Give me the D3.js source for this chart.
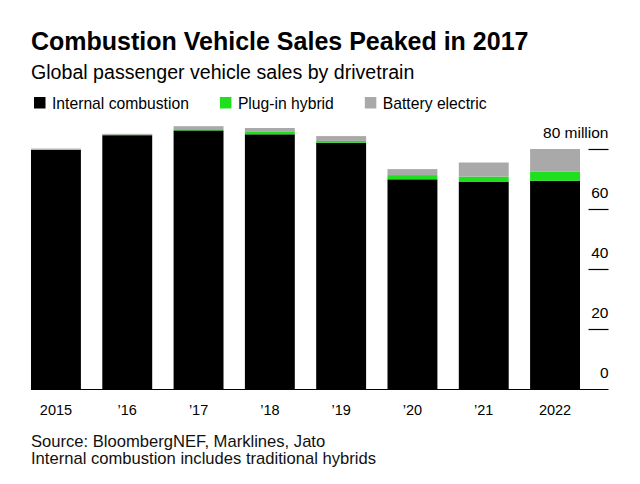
<!DOCTYPE html>
<html>
<head>
<meta charset="utf-8">
<script src="https://cdn.jsdelivr.net/npm/d3@7"></script>
<style>
  html, body { margin: 0; padding: 0; background: #fff; }
  svg { display: block; font-family: "Liberation Sans", Arial, Helvetica, sans-serif; }
</style>
</head>
<body>
<svg id="chart" width="640" height="484"></svg>
<script>
// ---- data ----
const years = ["2015", "\u201916", "\u201917", "\u201918", "\u201919", "\u201920", "\u201921", "2022"];
const internalCombustion = [79.7, 84.6, 86.2, 84.9, 82.1, 69.9, 69.0, 69.4];
const plugInHybrid       = [0.15, 0.15, 0.4, 0.8, 0.6, 1.4, 1.8, 3.0];
const batteryElectric    = [0.3, 0.3, 1.0, 1.3, 1.6, 2.0, 4.7, 7.6];
const seriesNames = ["Internal combustion", "Plug-in hybrid", "Battery electric"];
const seriesColors = ["#000000", "#1fe01f", "#a9a9a9"];
const yTicks = [0, 20, 40, 60, 80];
const yTickLabels = ["0", "20", "40", "60", "80 million"];
const titleText = "Combustion Vehicle Sales Peaked in 2017";
const subtitleText = "Global passenger vehicle sales by drivetrain";
const sourceLines = ["Source: BloombergNEF, Marklines, Jato", "Internal combustion includes traditional hybrids"];

// ---- build table ----
const keys = ["ice", "phev", "bev"];
const table = years.map((y, i) => ({ year: y, ice: internalCombustion[i], phev: plugInHybrid[i], bev: batteryElectric[i] }));
const stacked = d3.stack().keys(keys)(table);

const svg = d3.select("#chart");

// ---- scales ----
const x = d3.scaleBand().domain(years).range([20.3, 590.7]).paddingInner(0.3).paddingOuter(0.15);
const y = d3.scaleLinear().domain([0, 80]).range([389, 149]);
const color = d3.scaleOrdinal().domain(keys).range(seriesColors);

// ---- titles ----
svg.append("text").attr("x", 31).attr("y", 49.5)
  .attr("font-size", 25).attr("font-weight", "bold").attr("fill", "#000")
  .text(titleText);
svg.append("text").attr("x", 31).attr("y", 79)
  .attr("font-size", 19.6).attr("fill", "#000")
  .text(subtitleText);

// ---- legend ----
const legend = svg.append("g");
let lx = 34;
seriesNames.forEach((name, i) => {
  const g = legend.append("g");
  g.append("rect").attr("x", lx).attr("y", 97).attr("width", 11.5).attr("height", 11.5).attr("fill", seriesColors[i]);
  const t = g.append("text").attr("x", lx + 18).attr("y", 109).attr("font-size", 15.7).attr("fill", "#000").text(name);
  const w = t.node().getComputedTextLength();
  lx = lx + 18 + w + 31;
});

// ---- bars ----
svg.append("g").selectAll("g").data(stacked).join("g")
  .attr("fill", d => color(d.key))
  .selectAll("rect").data(d => d).join("rect")
  .attr("x", d => x(d.data.year))
  .attr("width", x.bandwidth())
  .attr("y", d => y(d[1]))
  .attr("height", d => y(d[0]) - y(d[1]));

// ---- x axis ----
const xAxis = svg.append("g").attr("transform", "translate(0,389)")
  .call(d3.axisBottom(x).tickSize(0).tickPadding(16));
xAxis.select(".domain").attr("d", "M31,0.5H608.5").attr("stroke", "#000").attr("stroke-width", 1.2);
xAxis.selectAll("text").attr("font-size", 14.5).attr("fill", "#000")
  .attr("font-family", "Liberation Sans, Arial, sans-serif");

// ---- y axis (right, labels above tick lines) ----
const yAxis = svg.append("g").attr("transform", "translate(608.5,0)")
  .call(d3.axisLeft(y).tickValues(yTicks).tickSize(20).tickFormat((d, i) => yTickLabels[i]));
yAxis.select(".domain").remove();
yAxis.selectAll(".tick line").attr("stroke", "#000").attr("stroke-width", 1.2)
  .filter(d => d === 0).remove();
yAxis.selectAll(".tick text")
  .attr("x", 0).attr("dy", null).attr("y", -11.5)
  .attr("text-anchor", "end")
  .attr("font-size", 15.5).attr("fill", "#000")
  .attr("font-family", "Liberation Sans, Arial, sans-serif");

// ---- source ----
sourceLines.forEach((s, i) => {
  svg.append("text").attr("x", 31).attr("y", 446.5 + i * 17.5)
    .attr("font-size", 16.6).attr("fill", "#111").text(s);
});
</script>
</body>
</html>
